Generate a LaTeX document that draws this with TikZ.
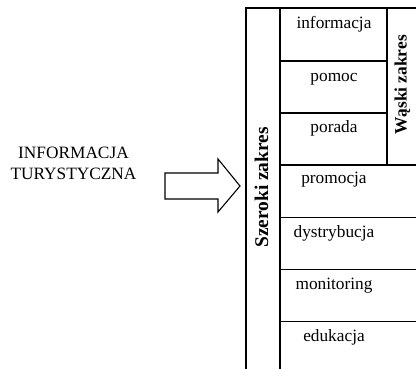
\documentclass[tikz,border=0pt]{standalone}
\usepackage{fontspec}
\setmainfont{Liberation Serif}
\begin{document}
\begin{tikzpicture}[x=1pt,y=-1pt, line width=1.3pt,
  cell/.style={font=\fontsize{17.3}{20.7}\selectfont, inner sep=0pt, anchor=base},
  vlabel/.style={font=\bfseries\fontsize{#1}{20}\selectfont, rotate=90, inner sep=0pt, anchor=base},
  lbl/.style={font=\fontsize{17.3}{20.7}\selectfont, align=center, inner sep=0pt, anchor=base}]
\useasboundingbox (0,0) rectangle (416,369);
% frame and grid
\coordinate (tl) at (246,8);
\coordinate (bl) at (246,369);
\coordinate (tr) at (416,8);
\draw (bl) -- (tl) -- (tr);
\draw (280,8) -- (280,369);
\draw (387,8) -- (387,165);
\draw (280,61) -- (387,61);
\draw (280,113) -- (387,113);
\draw (280,165) -- (416,165);
\draw (280,217.5) -- (416,217.5);
\draw (280,269.5) -- (416,269.5);
\draw (280,321.5) -- (416,321.5);
% cell texts
\node[cell] (c1) at (334,28.5) {informacja};
\node[cell] (c2) at (334,81.5) {pomoc};
\node[cell] (c3) at (334,133) {porada};
\node[cell] (c4) at (334,183.5) {promocja};
\node[cell] (c5) at (334,238) {dystrybucja};
\node[cell] (c6) at (334,290) {monitoring};
\node[cell] (c7) at (334,341.5) {edukacja};
% vertical labels
\node[vlabel=19.4] (sz) at (268,187.5) {Szeroki zakres};
\node[vlabel=17.4] (wz) at (406.5,85) {Wąski zakres};
% left label
\node[lbl] (it) at (73.5,179.3) {INFORMACJA\\TURYSTYCZNA};
% arrow
\draw[line width=1.1pt] (165,173) -- (218,173) -- (218,159) -- (240,186) -- (218,212) -- (218,199) -- (165,199) -- cycle;
\end{tikzpicture}
\end{document}
